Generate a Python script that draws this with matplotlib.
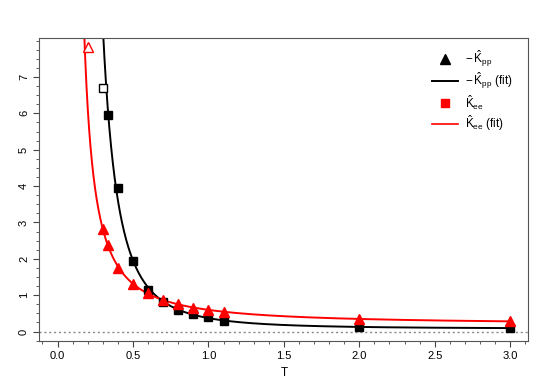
import numpy as np
import matplotlib
matplotlib.use("Agg")
import matplotlib.pyplot as plt
from matplotlib.ticker import MultipleLocator

plt.rcParams['font.family'] = ['Liberation Sans', 'DejaVu Sans']
plt.rcParams['mathtext.fontset'] = 'custom'
plt.rcParams['mathtext.rm'] = 'Liberation Sans'
plt.rcParams['mathtext.it'] = 'Liberation Sans'

# temperatures of the measured points
T = [0.333, 0.4, 0.5, 0.6, 0.7, 0.8, 0.9, 1.0, 1.1, 2.0, 3.0]
# -K_pp (black squares), K_ee (red triangles)
kpp = [5.96, 3.96, 1.93, 1.15, 0.80, 0.60, 0.48, 0.40, 0.30, 0.12, 0.10]
T_ee = [0.3, 0.333, 0.4, 0.5, 0.6, 0.7, 0.8, 0.9, 1.0, 1.1, 2.0, 3.0]
kee = [2.83, 2.39, 1.76, 1.30, 1.07, 0.87, 0.75, 0.65, 0.60, 0.54, 0.35, 0.28]
# points left out of the fit (open symbols)
T_pp_out = [0.3]
kpp_out = [6.70]
T_ee_out = [0.2]
kee_out = [7.83]


def fit_curve(x, y, t_grid):
    """fit y = c + a/(x - t0)^p, relative errors, grid search over t0 and p"""
    x = np.asarray(x)
    y = np.asarray(y)
    w = 1.0 / y
    best = None
    for t0 in np.linspace(0.0, min(x) - 0.01, 60):
        for p in np.linspace(0.5, 2.5, 81):
            u = (x - t0) ** (-p)
            A = np.vstack([np.ones_like(u), u]).T
            coef = np.linalg.lstsq(A * w[:, None], y * w, rcond=None)[0]
            err = np.sum(((A @ coef - y) * w) ** 2)
            if best is None or err < best[0]:
                best = (err, t0, p, coef)
    _, t0, p, coef = best
    tt = t_grid[t_grid > t0 + 1e-3]
    return tt, coef[0] + coef[1] * (tt - t0) ** (-p)


t_grid = np.linspace(0.05, 3.0, 2000)
fit_T_pp, fit_pp = fit_curve(T, kpp, t_grid)
fit_T_ee, fit_ee = fit_curve(T_ee, kee, t_grid)

fig = plt.figure(figsize=(5.48, 3.88), dpi=100)
ax = fig.add_axes([0.072, 0.122, 0.892, 0.78])

ax.axhline(0, color='#888888', linestyle=(0, (1.5, 2)), linewidth=1)

ax.plot(fit_T_pp, fit_pp, color='black', linewidth=1.4)
ax.plot(fit_T_ee, fit_ee, color='red', linewidth=1.4)
ax.plot(T, kpp, 's', color='black', markersize=6)
ax.plot(T_ee, kee, '^', color='red', markersize=7)
ax.plot(T_pp_out, kpp_out, 's', markerfacecolor='white', markeredgecolor='black',
        markersize=5.5, markeredgewidth=1)
ax.plot(T_ee_out, kee_out, '^', markerfacecolor='white', markeredgecolor='red',
        markersize=7, markeredgewidth=1)

ax.set_xlim(-0.12, 3.12)
ax.set_ylim(-0.25, 8.07)
ax.xaxis.set_minor_locator(MultipleLocator(0.1))
ax.yaxis.set_minor_locator(MultipleLocator(0.25))
ax.set_xticks([0, 0.5, 1.0, 1.5, 2.0, 2.5, 3.0])
ax.set_xticklabels(['0.0', '0.5', '1.0', '1.5', '2.0', '2.5', '3.0'])
ax.set_yticks(range(0, 8))
ax.tick_params(axis='both', which='major', length=4, labelsize=8, color='#444444')
ax.tick_params(axis='both', which='minor', length=2, color='#444444')
for lab in ax.get_yticklabels():
    lab.set_rotation(90)
    lab.set_va('center')
for s in ax.spines.values():
    s.set_color('#555555')
ax.set_xlabel('T', fontsize=8.5)

# legend symbols do not match the plotted ones, kept as in the original
handles = [
    plt.Line2D([], [], marker='^', color='black', linestyle='none', markersize=7),
    plt.Line2D([], [], color='black', linewidth=1.4),
    plt.Line2D([], [], marker='s', color='red', linestyle='none', markersize=6),
    plt.Line2D([], [], color='red', linewidth=1.2),
]
labels = [r'$-\,\hat{\mathrm{K}}_{\mathrm{pp}}$', r'$-\,\hat{\mathrm{K}}_{\mathrm{pp}}$ (fit)',
          r'$\hat{\mathrm{K}}_{\mathrm{ee}}$', r'$\hat{\mathrm{K}}_{\mathrm{ee}}$ (fit)']
ax.legend(handles, labels, loc='upper right', frameon=False, fontsize=8.5,
          handlelength=2.2, handletextpad=0.6, labelspacing=0.15,
          bbox_to_anchor=(0.99, 1.0))

fig.savefig('out.png', dpi=100)
